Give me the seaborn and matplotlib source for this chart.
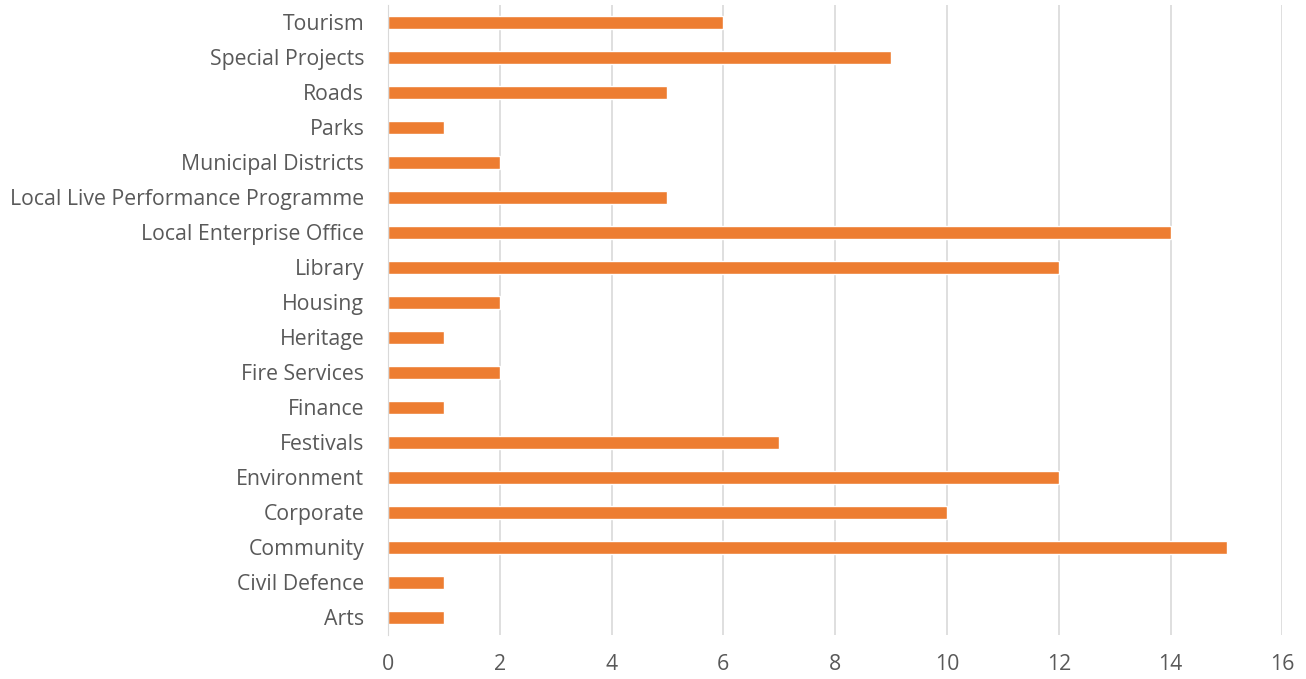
import matplotlib
matplotlib.use("Agg")
import matplotlib.pyplot as plt
import seaborn as sns
import pandas as pd

# categories listed top to bottom as they appear
departments = ["Tourism", "Special Projects", "Roads", "Parks", "Municipal Districts",
               "Local Live Performance Programme", "Local Enterprise Office", "Library",
               "Housing", "Heritage", "Fire Services", "Finance", "Festivals",
               "Environment", "Corporate", "Community", "Civil Defence", "Arts"]
counts = [6, 9, 5, 1, 2, 5, 14, 12, 2, 1, 2, 1, 7, 12, 10, 15, 1, 1]
x_ticks = [0, 2, 4, 6, 8, 10, 12, 14, 16]

df = pd.DataFrame({"Department": departments, "Count": counts})

sns.set_style("white")
plt.rcParams['font.family'] = ['Open Sans', 'DejaVu Sans']

fig = plt.figure(figsize=(13.06, 6.79), dpi=100)
ax = fig.add_axes([0.297, 0.065, 0.685, 0.928])

sns.barplot(data=df, x="Count", y="Department", orient="h", color="#ED7D31",
            width=0.36, saturation=1, ax=ax)

ax.set_xlim(0, 16)
ax.set_ylim(len(departments) - 0.5, -0.5)
ax.set_xticks(x_ticks)
ax.grid(axis="x", color="#D9D9D9", linewidth=1.2)
ax.set_axisbelow(True)
for s in ["top", "right", "bottom"]:
    ax.spines[s].set_visible(False)
ax.spines["left"].set_color("#D9D9D9")
ax.set_xlabel("")
ax.set_ylabel("")
ax.tick_params(axis="both", length=0, labelsize=15.3, colors="#595959")
ax.tick_params(axis="y", pad=17)
ax.tick_params(axis="x", pad=14)

fig.savefig("out.png", dpi=100)
